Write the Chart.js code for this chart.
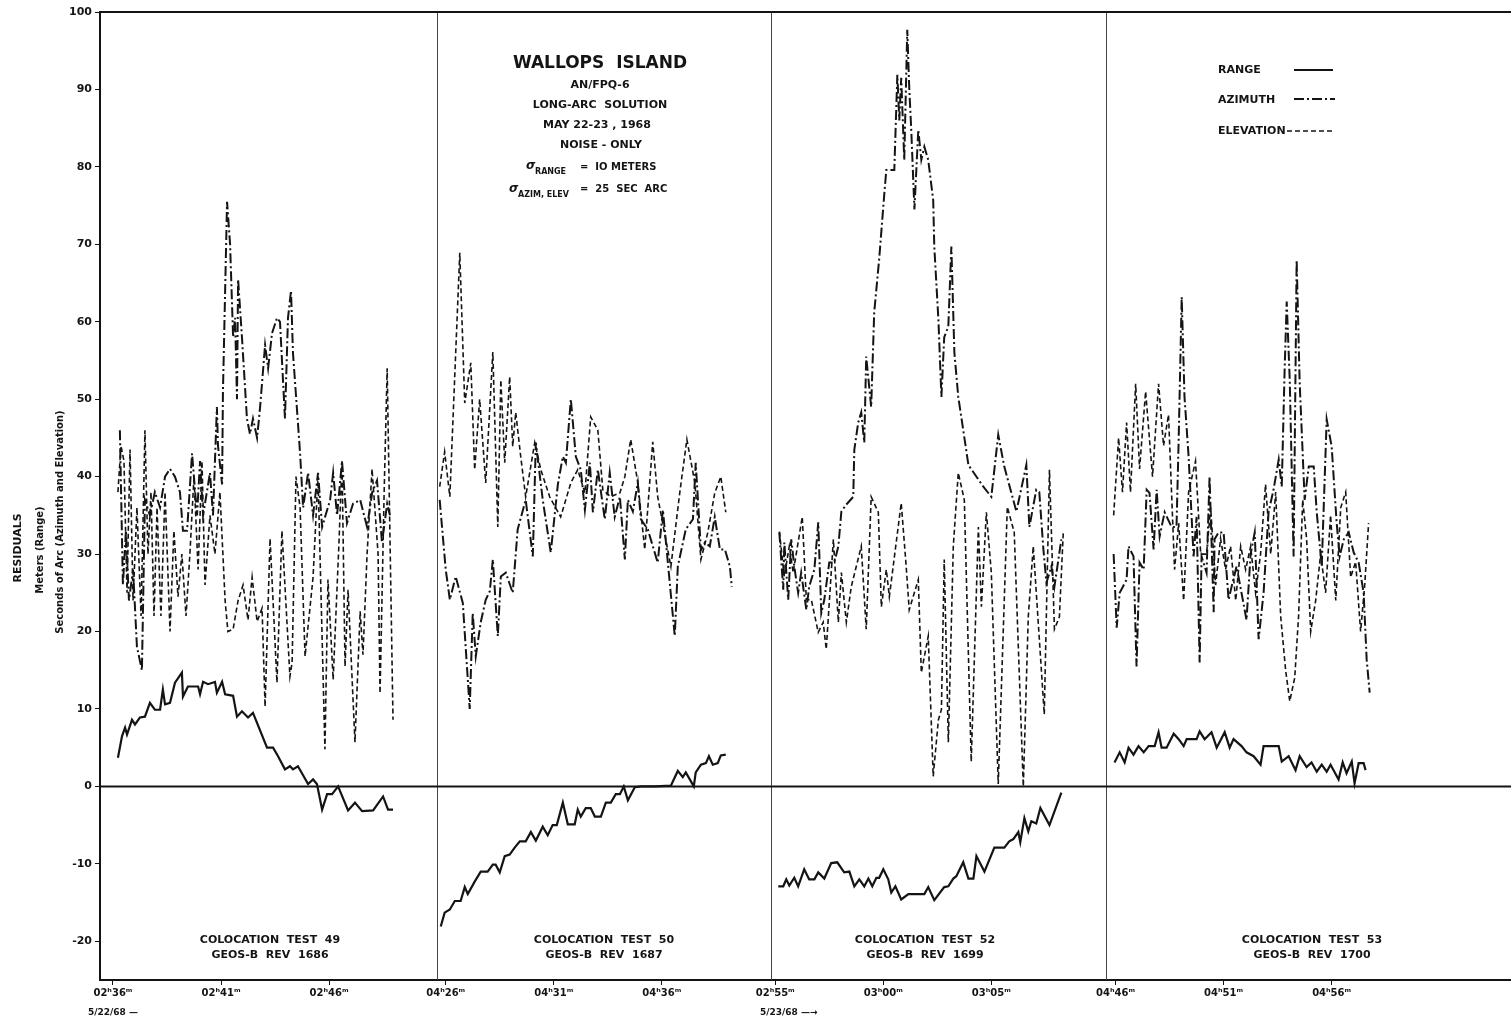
<!DOCTYPE html>
<html>
<head>
<meta charset="utf-8">
<script src="https://cdn.jsdelivr.net/npm/chart.js@4.4.1/dist/chart.umd.min.js"></script>
<style>
  body { margin: 0; background: #fff; }
  canvas { display: block; }
</style>
</head>
<body>
<canvas id="residualChart" width="1511" height="1025"></canvas>
<script>
// Wallops Island AN/FPQ-6 residuals, four colocation passes side by side.
// Times are minutes after each panel's first labelled tick.

// ===== axis layout (in "plot minutes") =====
const panelStart = [0.6, 16.0, 31.25, 47.0];   // where each panel's first tick sits
const panelEdges = [15.6, 31.06, 46.57];       // vertical separators
const tickLabels = [
  ["02ʰ36ᵐ", "02ʰ41ᵐ", "02ʰ46ᵐ"],
  ["04ʰ26ᵐ", "04ʰ31ᵐ", "04ʰ36ᵐ"],
  ["02ʰ55ᵐ", "03ʰ00ᵐ", "03ʰ05ᵐ"],
  ["04ʰ46ᵐ", "04ʰ51ᵐ", "04ʰ56ᵐ"]
];
const tickMinutes = [0, 5, 10];
const yTicks = [-20, -10, 0, 10, 20, 30, 40, 50, 60, 70, 80, 90, 100];
const panelNames = [
  ["COLOCATION  TEST  49", "GEOS-B  REV  1686"],
  ["COLOCATION  TEST  50", "GEOS-B  REV  1687"],
  ["COLOCATION  TEST  52", "GEOS-B  REV  1699"],
  ["COLOCATION  TEST  53", "GEOS-B  REV  1700"]
];

// ===== panel 1: test 49 =====
const rangeT1 = [0.23,0.42,0.56,0.65,0.88,1.02,1.25,1.48,1.71,1.94,2.18,2.31,2.41,2.64,2.87,3.19,3.24,3.47,3.94,4.03,4.17,4.40,4.72,4.81,5.05,5.19,5.56,5.74,5.97,6.25,6.48,7.13,7.41,7.64,7.96,8.19,8.33,8.56,9.03,9.26,9.44,9.68,9.91,10.14,10.42,10.88,11.20,11.53,12.04,12.50,12.73,12.96];
const rangeV1 = [3.7,6.5,7.6,6.7,8.6,8.0,8.9,9.0,10.8,9.9,9.9,12.5,10.6,10.8,13.4,14.7,11.6,12.9,12.9,11.9,13.5,13.2,13.5,12.1,13.5,11.9,11.7,9.0,9.7,8.9,9.5,5.0,5.0,3.9,2.2,2.6,2.2,2.6,0.3,0.9,0.3,-3.0,-1.0,-1.0,0,-3.1,-2.1,-3.2,-3.1,-1.3,-3.0,-3.0];
const azT1 = [0.32,0.46,0.60,0.74,0.93,1.11,1.34,1.48,1.71,1.94,2.18,2.41,2.64,2.87,3.10,3.24,3.43,3.66,3.89,4.03,4.17,4.49,4.63,4.81,4.86,5.05,5.09,5.28,5.42,5.56,5.65,5.74,5.79,5.97,6.20,6.34,6.48,6.67,6.81,7.04,7.18,7.36,7.59,7.73,7.96,8.10,8.24,8.33,8.66,8.80,9.03,9.26,9.49,9.68,10.05,10.19,10.37,10.60,10.83,11.11,11.44,11.76,12.00,12.22,12.45,12.69,12.82];
const azV1 = [46,26,33,24,28,18,15,37,35,38,36,40,41,40,38,33,33,43,35,42,35,40.5,35,49,44,39,51,75.5,70,58,60.5,50,65.5,58,47.5,45.5,47.5,45,49,57,54,58.5,60.5,60,47.5,60.5,64,56,43,36,40.5,35,40.5,33.5,37,40.5,35,42,34,36.5,37,33.5,38,39.5,31.5,36.5,35];
const elT1 = [0.23,0.37,0.51,0.65,0.79,0.93,1.11,1.30,1.48,1.62,1.76,1.90,2.04,2.22,2.41,2.64,2.82,3.01,3.19,3.38,3.56,3.75,3.94,4.12,4.26,4.49,4.72,4.95,5.19,5.32,5.56,5.79,6.02,6.25,6.44,6.67,6.90,7.04,7.27,7.59,7.82,8.19,8.29,8.47,8.66,8.89,9.26,9.49,9.81,9.95,10.19,10.46,10.60,10.74,10.88,11.20,11.44,11.57,11.76,11.99,12.27,12.36,12.55,12.69,12.96];
const elV1 = [38,44,42,25,43.5,24,36,22,46,30,38,22,36,22,38,20,33,24.5,30,22,30,40,28,42,26,35,30,38,24,20,20.3,24,26,21.5,27,21.3,23,10.3,32,13.4,33,14.2,16,40,36,16.8,27,40,4.8,26.7,13.8,31.5,42,15.5,25.4,5.7,22.6,17,30,41,30,12,38,54,8.6];

// ===== panel 2: test 50 =====
const rangeT2 = [-0.23,-0.05,0.19,0.42,0.69,0.88,1.02,1.34,1.62,1.94,2.18,2.31,2.50,2.73,2.96,3.19,3.43,3.70,3.94,4.17,4.49,4.72,4.95,5.14,5.42,5.65,5.97,6.11,6.25,6.48,6.71,6.90,7.18,7.41,7.64,7.87,8.06,8.24,8.43,8.75,9.03,9.68,10.42,10.74,10.97,11.11,11.48,11.57,11.81,12.04,12.18,12.36,12.59,12.73,12.96];
const rangeV2 = [-18.1,-16.3,-15.9,-14.8,-14.8,-13.0,-13.9,-12.3,-11.0,-11.0,-10.1,-10.1,-11.1,-9.0,-8.8,-7.9,-7.1,-7.1,-5.9,-7.0,-5.2,-6.3,-5.0,-5.0,-2.1,-4.9,-4.9,-3.0,-3.9,-2.8,-2.8,-3.9,-3.9,-2.1,-2.1,-1.0,-1.0,0,-1.8,-0.1,0,0,0.1,2.0,1.2,1.8,0,1.8,2.8,3.0,3.9,2.8,3.0,4.0,4.1];
const azT2 = [-0.28,0,0.19,0.46,0.79,1.11,1.25,1.39,1.62,1.85,2.04,2.18,2.41,2.55,2.78,3.10,3.33,3.70,4.03,4.17,4.49,4.86,5.19,5.42,5.56,5.79,6.02,6.25,6.44,6.67,6.81,7.04,7.36,7.59,7.82,8.06,8.29,8.43,8.66,8.89,9.03,9.35,9.81,10.05,10.28,10.60,10.74,11.11,11.44,11.57,11.81,11.99,12.22,12.45,12.69,12.92,13.15,13.24];
const azV2 = [37,28,24.1,27.1,23.7,10,22.4,16.8,21.2,24.1,25.2,29.3,19.4,27.1,27.6,25,33.2,37,29.7,44.4,37,30.2,39,42.6,41.8,50,42.6,40.9,35.7,41.8,35.4,40.9,34.5,40.5,34.8,37.4,29.3,37,35.5,39.2,34.5,33.2,28.9,35.7,28.9,19.4,28.4,33.2,34.5,41.8,30.5,31.5,31,34.8,30.6,30.6,28.4,25.8];
const elT2 = [-0.28,-0.05,0.19,0.65,0.88,1.16,1.34,1.57,1.85,2.18,2.41,2.55,2.73,2.96,3.10,3.24,3.47,3.70,4.12,4.40,4.81,5.32,5.79,6.11,6.44,6.71,7.04,7.27,7.64,8.06,8.29,8.56,8.89,9.21,9.58,9.81,10.42,10.83,11.16,11.53,11.81,12.13,12.45,12.73,12.96];
const elV2 = [38.7,43.2,37.4,68.9,49.5,54.7,40.9,50,39.2,56.1,33.5,52.5,41.8,52.9,43.9,48.3,42.6,37.4,44.4,40.9,37.4,34.8,39.2,40.9,37.9,47.7,46,38.3,37.4,37.9,40,44.8,39.2,30.6,44.5,37.4,28.4,37.9,44.8,39.2,29.3,32.8,37.9,40,35.4];

// ===== panel 3: test 52 =====
const rangeT3 = [0.14,0.37,0.51,0.65,0.88,1.06,1.34,1.57,1.81,1.99,2.27,2.59,2.87,3.19,3.43,3.66,3.89,4.12,4.31,4.49,4.68,4.81,5.00,5.23,5.37,5.56,5.83,6.16,6.90,7.08,7.36,7.82,8.01,8.24,8.38,8.70,8.94,9.17,9.31,9.68,10.14,10.60,10.83,11.02,11.25,11.34,11.53,11.71,11.85,12.08,12.27,12.69,13.24];
const rangeV3 = [-12.9,-12.9,-12.0,-12.8,-11.8,-12.9,-10.7,-12.0,-12.0,-11.1,-11.9,-9.9,-9.8,-11.1,-11.0,-12.9,-12.0,-12.9,-11.9,-12.9,-11.8,-11.8,-10.7,-12.0,-13.7,-12.9,-14.6,-13.9,-13.9,-13.0,-14.7,-13.0,-12.9,-11.9,-11.6,-9.8,-11.9,-11.9,-9.0,-11.0,-7.9,-7.9,-7.1,-6.8,-5.9,-7.2,-4.1,-5.8,-4.5,-4.8,-2.8,-5.0,-0.8];
const azT3 = [0.19,0.37,0.42,0.60,0.74,0.88,1.06,1.20,1.44,1.57,1.81,1.99,2.13,2.27,2.50,2.73,2.92,3.06,3.29,3.61,3.66,3.84,3.98,4.12,4.21,4.44,4.58,4.81,5.05,5.14,5.51,5.65,5.74,5.83,5.97,6.11,6.20,6.30,6.44,6.62,6.76,6.90,7.08,7.31,7.36,7.55,7.69,7.82,8.01,8.15,8.29,8.47,8.61,8.94,9.63,10.00,10.32,10.60,11.16,11.62,11.76,12.08,12.22,12.41,12.55,12.78,12.92,13.24];
const azV3 = [32.8,25.4,31.5,24.1,31.9,28.4,25,27.6,22.8,25.8,28,34.1,22.4,24.1,28.9,28.9,31,35.5,36.4,37.4,43.5,47,48.3,44.4,55.5,49,61.2,68.1,76.6,79.6,79.6,91.9,86,91.5,80.9,97.7,90.3,84.4,74.5,84.8,80.9,82.6,80.9,75.7,69.7,60.3,50.3,58,59.4,69.7,56,50.3,47.7,41.5,38.7,37.4,45.4,41.3,35.5,41.5,33.5,38.3,38,30.6,26.3,28.4,25.8,31.9];
const elT3 = [0.19,0.42,0.65,0.83,1.25,1.44,1.67,1.99,2.22,2.36,2.69,2.92,3.06,3.29,3.52,3.98,4.21,4.44,4.77,4.91,5.14,5.28,5.83,6.06,6.20,6.62,6.76,7.08,7.31,7.55,7.69,7.82,8.01,8.24,8.47,8.75,9.07,9.40,9.54,9.77,10.00,10.32,10.74,11.06,11.48,11.71,11.94,12.45,12.69,12.92,13.15,13.33];
const elV3 = [32.9,27.1,31,27.6,34.8,24.1,24.1,19.9,21.2,17.7,31.9,21.2,27.6,21.2,25.8,31,20.3,37.4,35.4,23.2,28,24.5,36.6,28.4,22.8,26.7,14.7,19.4,1.3,8.6,9.9,29.3,5.7,31,40.5,37,3.2,33.5,23.2,35.4,27.6,0.3,36.1,32.8,0,21.9,31,9.3,40.9,20.3,21.9,32.8];

// ===== panel 4: test 53 =====
const rangeT4 = [-0.05,0.19,0.42,0.60,0.83,1.06,1.30,1.53,1.81,1.99,2.13,2.36,2.69,2.92,3.15,3.29,3.75,3.89,4.12,4.44,4.68,5.05,5.28,5.46,5.83,6.06,6.39,6.71,6.85,7.55,7.69,8.01,8.33,8.52,8.84,9.07,9.31,9.54,9.77,9.95,10.32,10.51,10.69,10.93,11.06,11.25,11.48,11.57];
const rangeV4 = [3.1,4.4,3.1,5.0,4.1,5.2,4.4,5.2,5.2,7.0,5.0,5.0,6.8,6.1,5.2,6.1,6.1,7.1,6.1,7.0,5.0,7.0,5.0,6.1,5.2,4.4,3.9,2.8,5.2,5.2,3.2,3.9,2.1,3.9,2.5,3.1,1.9,2.8,1.9,2.8,0.9,3.1,1.7,3.2,0.4,3.0,3.0,2.1];
const azT4 = [-0.09,0.05,0.19,0.51,0.60,0.83,0.97,1.11,1.30,1.44,1.57,1.76,1.90,2.04,2.27,2.59,2.82,2.92,3.06,3.19,3.38,3.61,3.75,3.89,3.98,4.21,4.35,4.54,4.58,4.77,5.00,5.23,5.37,5.60,6.06,6.25,6.44,6.62,6.85,7.08,7.31,7.55,7.69,7.82,7.92,8.06,8.24,8.38,8.52,8.75,8.94,9.17,9.31,9.54,9.77,10.00,10.23,10.37,10.56,10.79,11.02,11.25,11.48,11.62,11.76];
const azV4 = [30,20.5,25,26.7,31,29.7,15.5,28.9,28,38.3,37.9,30.6,38.3,32.3,35.4,33.5,33.5,44.8,63.2,50.3,42.6,29.7,34.8,16,29.7,27.6,40,22.5,31.9,32.8,32.8,24.1,25.8,28.4,21.5,30,32.8,19,25,35.4,38.3,42.2,38.7,53.4,62.6,52.5,29.7,68,52.1,37,41.3,41.3,35.4,28.4,47.4,43.9,34.1,29.7,31.9,32.8,30.2,28.9,25,16.4,12.1];
const elT4 = [-0.09,0.14,0.32,0.51,0.69,0.93,1.11,1.39,1.71,1.99,2.22,2.45,2.73,2.92,3.15,3.38,3.70,3.94,4.21,4.40,4.63,4.86,5.09,5.32,5.56,5.79,6.02,6.25,6.48,6.71,6.94,7.18,7.41,7.64,7.87,8.06,8.29,8.47,8.66,8.84,9.03,9.26,9.49,9.72,9.95,10.19,10.42,10.65,10.88,11.11,11.34,11.53,11.71];
const elV4 = [35,45,38,47,38,52,41,51,40,52,44,48,28,34,24,38,42,30,30,36,26,32,28,31,24,31,28,31,25,30,39,30,38,22,15,11,14,22,37,32,20,24,30,25,35,24,36,38,27,29,20,26,34];

// ===== build datasets =====
const INK = "#141414";
const styles = {
  range:   { borderWidth: 2.2, borderDash: [] },
  azimuth: { borderWidth: 2.0, borderDash: [10, 3, 2, 3] },
  elev:    { borderWidth: 1.6, borderDash: [5, 3] }
};

function points(panel, times, values) {
  const n = Math.min(times.length, values.length);
  const out = [];
  for (let i = 0; i < n; i++) out.push({ x: panelStart[panel] + times[i], y: values[i] });
  return out;
}

function makeSet(kind, panel, times, values) {
  return {
    label: kind + " " + (panel + 1),
    data: points(panel, times, values),
    borderColor: INK,
    borderWidth: styles[kind].borderWidth,
    borderDash: styles[kind].borderDash,
    pointRadius: 0,
    tension: 0,
    fill: false,
    showLine: true
  };
}

const datasets = [
  makeSet("elev", 0, elT1, elV1), makeSet("azimuth", 0, azT1, azV1), makeSet("range", 0, rangeT1, rangeV1),
  makeSet("elev", 1, elT2, elV2), makeSet("azimuth", 1, azT2, azV2), makeSet("range", 1, rangeT2, rangeV2),
  makeSet("elev", 2, elT3, elV3), makeSet("azimuth", 2, azT3, azV3), makeSet("range", 2, rangeT3, rangeV3),
  makeSet("elev", 3, elT4, elV4), makeSet("azimuth", 3, azT4, azV4), makeSet("range", 3, rangeT4, rangeV4)
];

// flat tick list for the x axis
const xTickPos = [];
const xTickText = [];
panelStart.forEach((s, p) => {
  tickMinutes.forEach((m, i) => {
    xTickPos.push(s + m);
    xTickText.push(tickLabels[p][i]);
  });
});

const FONT = "'DejaVu Sans', sans-serif";

// ===== extra drawing: frame, zero line, separators, texts, legend =====
const decorations = {
  id: "decorations",
  beforeDatasetsDraw(chart) {
    const { ctx, chartArea: a, scales } = chart;
    const x = scales.x, y = scales.y;
    ctx.save();
    // panel separators
    ctx.strokeStyle = "#444";
    ctx.lineWidth = 1;
    panelEdges.forEach(v => {
      const px = Math.round(x.getPixelForValue(v)) + 0.5;
      ctx.beginPath();
      ctx.moveTo(px, a.top);
      ctx.lineTo(px, a.bottom);
      ctx.stroke();
    });
    // zero line
    ctx.strokeStyle = INK;
    ctx.lineWidth = 2;
    const y0 = y.getPixelForValue(0);
    ctx.beginPath();
    ctx.moveTo(a.left, y0);
    ctx.lineTo(a.right, y0);
    ctx.stroke();
    // top border
    ctx.beginPath();
    ctx.moveTo(a.left, a.top);
    ctx.lineTo(a.right, a.top);
    ctx.stroke();
    ctx.restore();
  },
  afterDraw(chart) {
    const { ctx } = chart;
    ctx.save();
    ctx.fillStyle = INK;

    // title block
    ctx.textAlign = "center";
    ctx.textBaseline = "middle";
    ctx.font = "bold 17px " + FONT;
    ctx.fillText("WALLOPS  ISLAND", 600, 64);
    ctx.font = "bold 11px " + FONT;
    ctx.fillText("AN/FPQ-6", 600, 85);
    ctx.fillText("LONG-ARC  SOLUTION", 600, 105);
    ctx.fillText("MAY 22-23 , 1968", 597, 125);
    ctx.fillText("NOISE - ONLY", 601, 145);
    // sigma lines
    ctx.textAlign = "left";
    ctx.font = "italic bold 12px " + FONT;
    ctx.fillText("σ", 526, 166);
    ctx.fillText("σ", 509, 189);
    ctx.font = "bold 8px " + FONT;
    ctx.fillText("RANGE", 535, 172);
    ctx.fillText("AZIM, ELEV", 518, 195);
    ctx.font = "bold 10px " + FONT;
    ctx.fillText("=  IO METERS", 580, 167);
    ctx.fillText("=  25  SEC  ARC", 580, 189);

    // legend
    ctx.font = "bold 11px " + FONT;
    ctx.fillText("RANGE", 1218, 70);
    ctx.fillText("AZIMUTH", 1218, 100);
    ctx.fillText("ELEVATION", 1218, 131);
    const legendLines = [
      [1294, 1333, 70, styles.range],
      [1294, 1335, 99, styles.azimuth],
      [1287, 1332, 131, styles.elev]
    ];
    ctx.strokeStyle = INK;
    legendLines.forEach(([x1, x2, ly, st]) => {
      ctx.lineWidth = st.borderWidth;
      ctx.setLineDash(st.borderDash);
      ctx.beginPath();
      ctx.moveTo(x1, ly);
      ctx.lineTo(x2, ly);
      ctx.stroke();
    });
    ctx.setLineDash([]);

    // panel captions
    ctx.textAlign = "center";
    ctx.font = "bold 11px " + FONT;
    const captionX = [270, 604, 925, 1312];
    panelNames.forEach((lines, i) => {
      ctx.fillText(lines[0], captionX[i], 940);
      ctx.fillText(lines[1], captionX[i], 955);
    });

    // date notes under the time axis
    ctx.textAlign = "left";
    ctx.font = "bold 9px " + FONT;
    ctx.fillText("5/22/68 —", 88, 1013);
    ctx.fillText("5/23/68 —→", 760, 1013);

    // y axis titles
    const titles = [
      ["RESIDUALS", 18, 548, "bold 11px "],
      ["Meters (Range)", 40, 550, "bold 10px "],
      ["Seconds of Arc (Azimuth and Elevation)", 60, 522, "bold 10px "]
    ];
    titles.forEach(([t, tx, ty, f]) => {
      ctx.save();
      ctx.translate(tx, ty);
      ctx.rotate(-Math.PI / 2);
      ctx.textAlign = "center";
      ctx.font = f + FONT;
      ctx.fillText(t, 0, 0);
      ctx.restore();
    });
    ctx.restore();
  }
};

new Chart(document.getElementById("residualChart").getContext("2d"), {
  type: "scatter",
  data: { datasets: datasets },
  options: {
    responsive: false,
    animation: false,
    layout: { padding: { top: 12, right: 0, left: 0, bottom: 0 } },
    plugins: {
      legend: { display: false },
      tooltip: { enabled: false }
    },
    scales: {
      x: {
        type: "linear",
        min: 0,
        max: 65.3,
        afterBuildTicks: s => { s.ticks = xTickPos.map(v => ({ value: v })); },
        afterFit: s => { s.height = 45; },
        ticks: {
          color: INK,
          font: { family: FONT, size: 10, weight: "bold" },
          padding: 2,
          maxRotation: 0,
          autoSkip: false,
          callback: (v, i) => xTickText[i]
        },
        grid: { drawOnChartArea: false, tickLength: 5, color: INK },
        border: { color: INK, width: 2 }
      },
      y: {
        min: -25,
        max: 100,
        afterBuildTicks: s => { s.ticks = yTicks.map(v => ({ value: v })); },
        afterFit: s => { s.width = 100; },
        ticks: {
          color: INK,
          font: { family: FONT, size: 11, weight: "bold" },
          padding: 3
        },
        grid: { drawOnChartArea: false, tickLength: 5, color: INK },
        border: { color: INK, width: 2 }
      }
    }
  },
  plugins: [decorations]
});
</script>
</body>
</html>
